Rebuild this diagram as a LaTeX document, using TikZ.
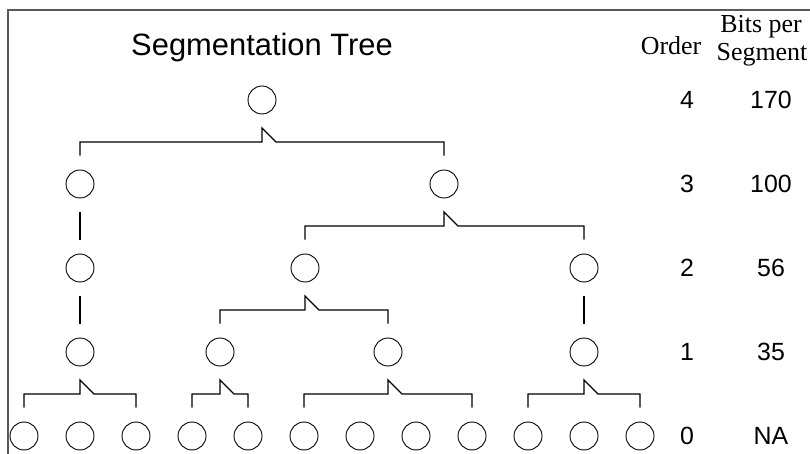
\documentclass[tikz,border=0pt]{standalone}
\usepackage{fontspec}
\setmainfont{Liberation Serif}
\newfontfamily\sansf{Liberation Sans}
\usetikzlibrary{calc}
\tikzset{
  seg/.style={circle, draw, line width=0.9bp, minimum size=28bp, inner sep=0pt},
  link/.style={line width=1.3bp, black},
  lab/.style={font=\sansf\fontsize{25}{30}\selectfont, inner sep=0pt, anchor=center},
  head/.style={font=\fontsize{26}{29}\selectfont, inner sep=0pt, anchor=base},
  frame/.style={line width=1.2bp, black!65}
}
% bracket from a parent down to its outermost children, with the small notch under the parent
\newcommand\splitbrace[3]{%
  \draw[link] ([yshift=14bp]#2.north) |- ($(#1.center)+(0,42)$) -- ++(0,-14) -- ++(14,14)
    -| ([yshift=14bp]#3.north);}
\newcommand\straight[2]{%
  \draw[link] ([yshift=-14bp]#1.south) -- ([yshift=14bp]#2.north);}
\begin{document}
\begin{tikzpicture}[x=1bp, y=-1bp]
  \useasboundingbox (0,0) rectangle (810,454);
  \draw[frame] (8,454) -- (8,10) -- (810,10);

  \node[font=\sansf\fontsize{31}{36}\selectfont, inner sep=0pt] (title) at (262,48) {Segmentation Tree};
  \node[head] (ord) at (671,55) {Order};
  \node[head] (bits1) at (761,33) {Bits per};
  \node[head] (bits2) at (762,61) {Segment};

  % order 4
  \node[seg] (r) at (262,100) {};
  % order 3
  \node[seg] (a) at (80,184) {};
  \node[seg] (b) at (444,184) {};
  % order 2
  \node[seg] (c) at (80,268) {};
  \node[seg] (d) at (305,268) {};
  \node[seg] (e) at (584,268) {};
  % order 1
  \node[seg] (f) at (80,352) {};
  \node[seg] (g) at (220,352) {};
  \node[seg] (h) at (388,352) {};
  \node[seg] (i) at (584,352) {};
  % order 0
  \foreach \k/\x in {1/24,2/80,3/136,4/192,5/248,6/304,7/360,8/416,9/472,10/528,11/584,12/640}
    \node[seg] (z\k) at (\x,436) {};

  \splitbrace{r}{a}{b}
  \splitbrace{b}{d}{e}
  \splitbrace{d}{g}{h}
  \splitbrace{f}{z1}{z3}
  \splitbrace{g}{z4}{z5}
  \splitbrace{h}{z6}{z9}
  \splitbrace{i}{z10}{z12}
  \straight{a}{c}
  \straight{c}{f}
  \straight{e}{i}

  % order and bits per segment columns
  \foreach \n/\y/\o/\b in {4/100/4/170, 3/184/3/100, 2/268/2/56, 1/352/1/35, 0/436/0/NA} {
    \node[lab] (o\n) at (687,\y) {\o};
    \node[lab] (s\n) at (771,\y) {\b};
  }
\end{tikzpicture}
\end{document}
